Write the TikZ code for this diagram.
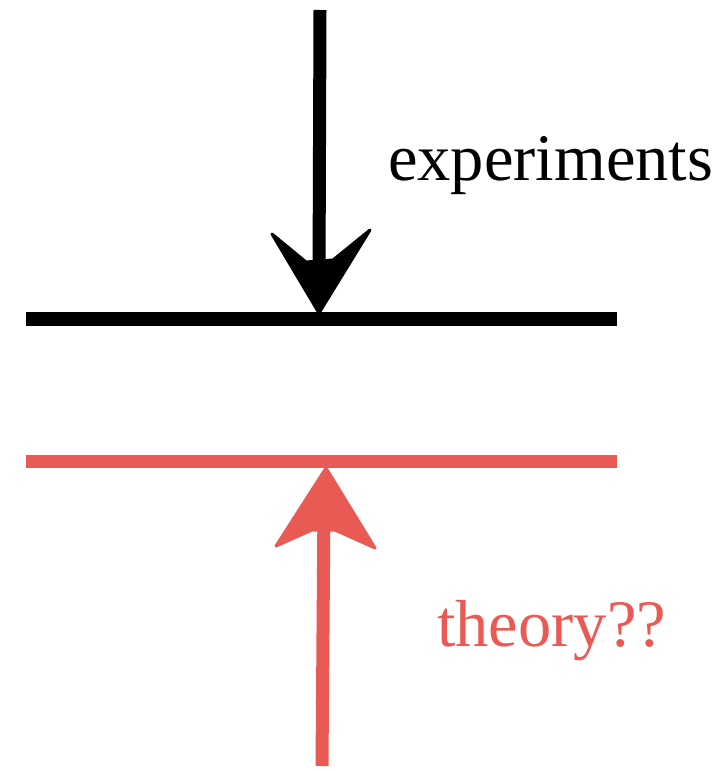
\documentclass[tikz,border=0pt]{standalone}
\usepackage{fontspec}
\setmainfont{Liberation Serif}
\definecolor{theoryred}{RGB}{234,90,84}
\tikzset{
  bar/.style={line width=14pt, line cap=butt},
  shaft/.style={line width=13pt, line cap=butt},
  head/.style={line join=round, line width=3pt},
  label/.style={font=\fontsize{66.5}{70}\selectfont, anchor=base west, inner sep=0pt}
}
\begin{document}
\begin{tikzpicture}[x=1pt,y=-1pt]
\useasboundingbox (0,0) rectangle (728,771);
% black: experiments
\coordinate (btop) at (320,10);
\coordinate (bend) at (319,280);
\draw[shaft] (btop) -- (bend);
\filldraw[head] (319,313) -- (272,234) -- (306,262) -- (333,260) -- (370,230) -- cycle;
\coordinate (bl) at (26,319);
\coordinate (br) at (617,319);
\draw[bar] (bl) -- (br);
\node[label] (exp) at (388,180) {experiments};
% red: theory
\coordinate (rbot) at (322,766);
\coordinate (rend) at (324,500);
\draw[shaft, theoryred] (rbot) -- (rend);
\filldraw[head, theoryred] (326,468) -- (375,548) -- (335,530) -- (312,530) -- (276,546) -- cycle;
\coordinate (rl) at (26,461);
\coordinate (rr) at (617,461);
\draw[bar, theoryred, line width=13pt] (rl) -- (rr);
\node[label, text=theoryred] (thy) at (437,646) {theory??};
\end{tikzpicture}
\end{document}
